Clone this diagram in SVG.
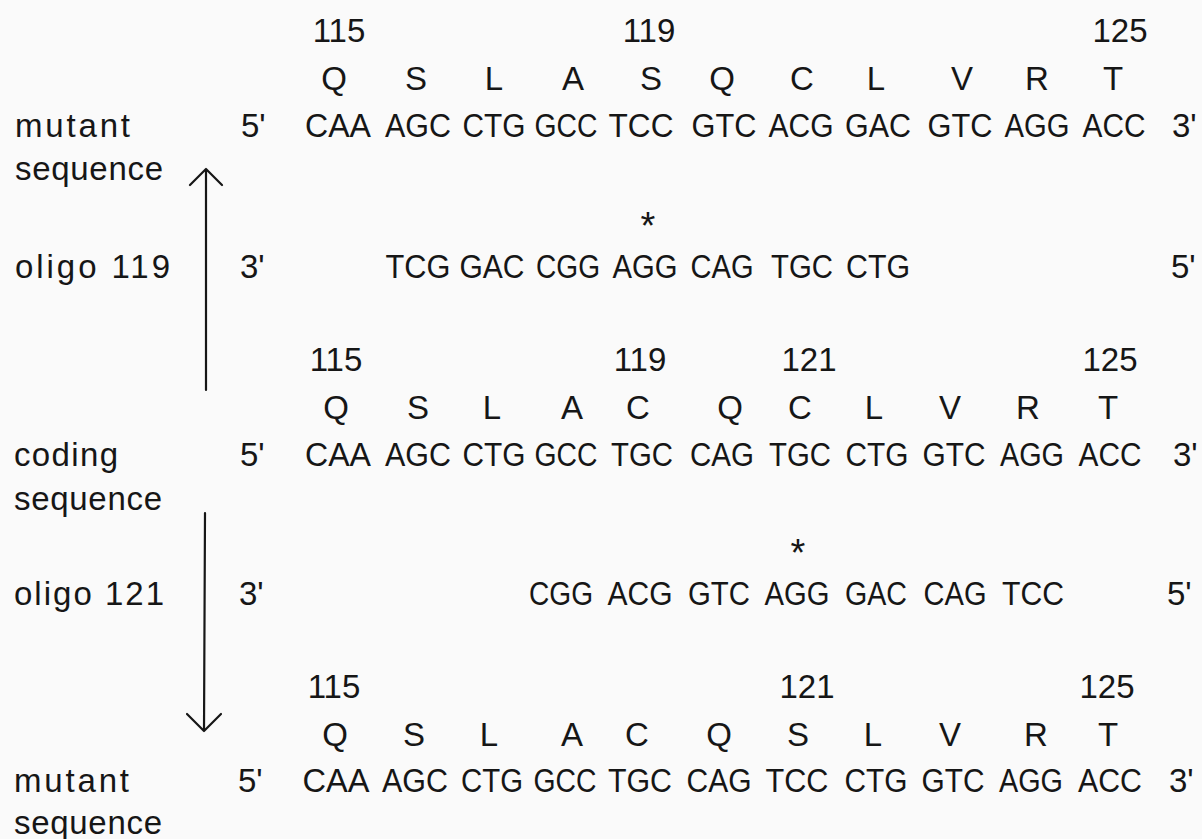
<svg xmlns="http://www.w3.org/2000/svg" width="1202" height="839" viewBox="0 0 1202 839">
<style>
text{font-family:"Liberation Sans",Arial,sans-serif;font-size:33px;fill:#161616}
.m{text-anchor:middle}
.c{text-anchor:middle}
.s{font-size:38px;text-anchor:middle}
.ar{stroke:#161616;stroke-width:2.2;fill:none;stroke-linecap:round;stroke-linejoin:round}
</style>
<rect width="1202" height="839" fill="#fafafa"/>
<g id="mutant1">
<text class="m" y="42"><tspan x="339">115</tspan><tspan x="649">119</tspan><tspan x="1120">125</tspan></text>
<text class="m" y="90"><tspan x="334">Q</tspan><tspan x="416">S</tspan><tspan x="494">L</tspan><tspan x="573">A</tspan><tspan x="651">S</tspan><tspan x="722">Q</tspan><tspan x="802">C</tspan><tspan x="876">L</tspan><tspan x="962">V</tspan><tspan x="1037">R</tspan><tspan x="1113">T</tspan></text>
<text x="15" y="137" textLength="115" lengthAdjust="spacing">mutant</text>
<text x="15" y="180" textLength="148" lengthAdjust="spacing">sequence</text>
<text x="241" y="137">5'</text>
<text class="c" x="338" y="137" textLength="66" lengthAdjust="spacingAndGlyphs">CAA</text>
<text class="c" x="418" y="137" textLength="66" lengthAdjust="spacingAndGlyphs">AGC</text>
<text class="c" x="494" y="137" textLength="63" lengthAdjust="spacingAndGlyphs">CTG</text>
<text class="c" x="566" y="137" textLength="63" lengthAdjust="spacingAndGlyphs">GCC</text>
<text class="c" x="641" y="137" textLength="65" lengthAdjust="spacingAndGlyphs">TCC</text>
<text class="c" x="724" y="137" textLength="65" lengthAdjust="spacingAndGlyphs">GTC</text>
<text class="c" x="801" y="137" textLength="65" lengthAdjust="spacingAndGlyphs">ACG</text>
<text class="c" x="878" y="137" textLength="66" lengthAdjust="spacingAndGlyphs">GAC</text>
<text class="c" x="960" y="137" textLength="65" lengthAdjust="spacingAndGlyphs">GTC</text>
<text class="c" x="1037" y="137" textLength="65" lengthAdjust="spacingAndGlyphs">AGG</text>
<text class="c" x="1114" y="137" textLength="63" lengthAdjust="spacingAndGlyphs">ACC</text>
<text x="1172" y="137">3'</text>
</g>
<g id="oligo119">
<text class="s" x="648" y="239">*</text>
<text x="15" y="278" textLength="155" lengthAdjust="spacing">oligo 119</text>
<text x="240" y="278">3'</text>
<text class="c" x="418" y="278" textLength="65" lengthAdjust="spacingAndGlyphs">TCG</text>
<text class="c" x="492" y="278" textLength="65" lengthAdjust="spacingAndGlyphs">GAC</text>
<text class="c" x="568" y="278" textLength="64" lengthAdjust="spacingAndGlyphs">CGG</text>
<text class="c" x="645" y="278" textLength="65" lengthAdjust="spacingAndGlyphs">AGG</text>
<text class="c" x="722" y="278" textLength="63" lengthAdjust="spacingAndGlyphs">CAG</text>
<text class="c" x="802" y="278" textLength="62" lengthAdjust="spacingAndGlyphs">TGC</text>
<text class="c" x="878" y="278" textLength="64" lengthAdjust="spacingAndGlyphs">CTG</text>
<text x="1171" y="278">5'</text>
</g>
<g id="coding">
<text class="m" y="371"><tspan x="336">115</tspan><tspan x="640">119</tspan><tspan x="809">121</tspan><tspan x="1110">125</tspan></text>
<text class="m" y="419"><tspan x="336">Q</tspan><tspan x="418">S</tspan><tspan x="492">L</tspan><tspan x="572">A</tspan><tspan x="638">C</tspan><tspan x="730">Q</tspan><tspan x="800">C</tspan><tspan x="874">L</tspan><tspan x="950">V</tspan><tspan x="1028">R</tspan><tspan x="1108">T</tspan></text>
<text x="14" y="466" textLength="104" lengthAdjust="spacing">coding</text>
<text x="14" y="510" textLength="148" lengthAdjust="spacing">sequence</text>
<text x="240" y="466">5'</text>
<text class="c" x="338" y="466" textLength="66" lengthAdjust="spacingAndGlyphs">CAA</text>
<text class="c" x="418" y="466" textLength="66" lengthAdjust="spacingAndGlyphs">AGC</text>
<text class="c" x="494" y="466" textLength="63" lengthAdjust="spacingAndGlyphs">CTG</text>
<text class="c" x="566" y="466" textLength="63" lengthAdjust="spacingAndGlyphs">GCC</text>
<text class="c" x="642" y="466" textLength="62" lengthAdjust="spacingAndGlyphs">TGC</text>
<text class="c" x="722" y="466" textLength="64" lengthAdjust="spacingAndGlyphs">CAG</text>
<text class="c" x="800" y="466" textLength="62" lengthAdjust="spacingAndGlyphs">TGC</text>
<text class="c" x="877" y="466" textLength="63" lengthAdjust="spacingAndGlyphs">CTG</text>
<text class="c" x="954" y="466" textLength="63" lengthAdjust="spacingAndGlyphs">GTC</text>
<text class="c" x="1032" y="466" textLength="64" lengthAdjust="spacingAndGlyphs">AGG</text>
<text class="c" x="1110" y="466" textLength="63" lengthAdjust="spacingAndGlyphs">ACC</text>
<text x="1173" y="466">3'</text>
</g>
<g id="oligo121">
<text class="s" x="798" y="566">*</text>
<text x="14" y="605" textLength="150" lengthAdjust="spacing">oligo 121</text>
<text x="239" y="605">3'</text>
<text class="c" x="561" y="605" textLength="64" lengthAdjust="spacingAndGlyphs">CGG</text>
<text class="c" x="640" y="605" textLength="65" lengthAdjust="spacingAndGlyphs">ACG</text>
<text class="c" x="719" y="605" textLength="62" lengthAdjust="spacingAndGlyphs">GTC</text>
<text class="c" x="797" y="605" textLength="65" lengthAdjust="spacingAndGlyphs">AGG</text>
<text class="c" x="876" y="605" textLength="62" lengthAdjust="spacingAndGlyphs">GAC</text>
<text class="c" x="955" y="605" textLength="63" lengthAdjust="spacingAndGlyphs">CAG</text>
<text class="c" x="1033" y="605" textLength="62" lengthAdjust="spacingAndGlyphs">TCC</text>
<text x="1167" y="605">5'</text>
</g>
<g id="mutant2">
<text class="m" y="698"><tspan x="334">115</tspan><tspan x="807">121</tspan><tspan x="1107">125</tspan></text>
<text class="m" y="746"><tspan x="335">Q</tspan><tspan x="414">S</tspan><tspan x="489">L</tspan><tspan x="572">A</tspan><tspan x="637">C</tspan><tspan x="719">Q</tspan><tspan x="798">S</tspan><tspan x="873">L</tspan><tspan x="950">V</tspan><tspan x="1036">R</tspan><tspan x="1108">T</tspan></text>
<text x="14" y="792" textLength="115" lengthAdjust="spacing">mutant</text>
<text x="14" y="834" textLength="148" lengthAdjust="spacing">sequence</text>
<text x="238" y="792">5'</text>
<text class="c" x="336" y="792" textLength="67" lengthAdjust="spacingAndGlyphs">CAA</text>
<text class="c" x="415" y="792" textLength="66" lengthAdjust="spacingAndGlyphs">AGC</text>
<text class="c" x="492" y="792" textLength="62" lengthAdjust="spacingAndGlyphs">CTG</text>
<text class="c" x="565" y="792" textLength="63" lengthAdjust="spacingAndGlyphs">GCC</text>
<text class="c" x="640" y="792" textLength="64" lengthAdjust="spacingAndGlyphs">TGC</text>
<text class="c" x="719" y="792" textLength="65" lengthAdjust="spacingAndGlyphs">CAG</text>
<text class="c" x="797" y="792" textLength="63" lengthAdjust="spacingAndGlyphs">TCC</text>
<text class="c" x="876" y="792" textLength="63" lengthAdjust="spacingAndGlyphs">CTG</text>
<text class="c" x="953" y="792" textLength="63" lengthAdjust="spacingAndGlyphs">GTC</text>
<text class="c" x="1031" y="792" textLength="64" lengthAdjust="spacingAndGlyphs">AGG</text>
<text class="c" x="1110" y="792" textLength="64" lengthAdjust="spacingAndGlyphs">ACC</text>
<text x="1169" y="792">3'</text>
</g>
<g id="connectors">
<path class="ar" d="M206,390 V169 M190,185 L206,169 L222,185"/>
<path class="ar" d="M205,513 L204,730 M187,714 L204,731 L221,714"/>
</g>
</svg>
